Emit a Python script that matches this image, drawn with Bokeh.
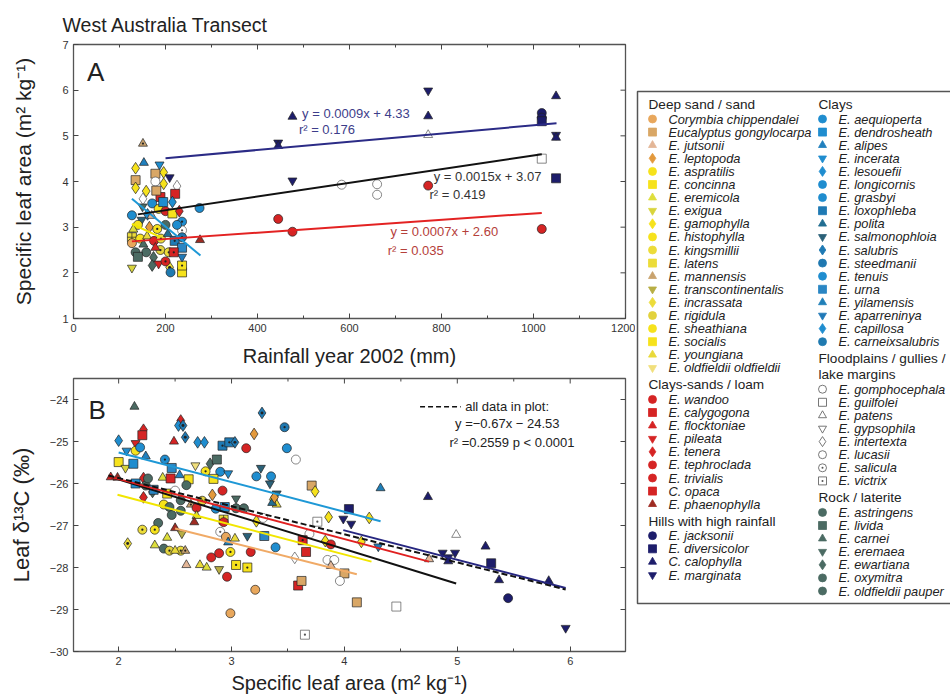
import math
from bokeh.plotting import figure
from bokeh.layouts import row, column
from bokeh.models import Range1d, SingleIntervalTicker, ColumnDataSource
from bokeh.embed import file_html
from bokeh.resources import INLINE
from bokeh.core.properties import value

FONT = "Liberation Sans"

# ---------------- species / groups (legend) ----------------
group_titles = ["Deep sand / sand", "Clays-sands / loam", "Hills with high rainfall",
                "Clays", "Floodplains / gullies /|lake margins", "Rock / laterite"]
sand_species = ["Corymbia chippendalei", "Eucalyptus gongylocarpa", "E. jutsonii", "E. leptopoda",
                "E. aspratilis", "E. concinna", "E. eremicola", "E. exigua", "E. gamophylla",
                "E. histophylla", "E. kingsmillii", "E. latens", "E. mannensis",
                "E. transcontinentalis", "E. incrassata", "E. rigidula", "E. sheathiana",
                "E. socialis", "E. youngiana", "E. oldfieldii oldfieldii"]
loam_species = ["E. wandoo", "E. calygogona", "E. flocktoniae", "E. pileata", "E. tenera",
                "E. tephroclada", "E. trivialis", "C. opaca", "E. phaenophylla"]
hills_species = ["E. jacksonii", "E. diversicolor", "C. calophylla", "E. marginata"]
clay_species = ["E. aequioperta", "E. dendrosheath", "E. alipes", "E. incerata", "E. lesouefii",
                "E. longicornis", "E. grasbyi", "E. loxophleba", "E. polita", "E. salmonophloia",
                "E. salubris", "E. steedmanii", "E. tenuis", "E. urna", "E. yilamensis",
                "E. aparreninya", "E. capillosa", "E. carneixsalubris"]
flood_species = ["E. gomphocephala", "E. guilfolei", "E. patens", "E. gypsophila",
                 "E. intertexta", "E. lucasii", "E. salicula", "E. victrix"]
rock_species = ["E. astringens", "E. livida", "E. carnei", "E. eremaea", "E. ewartiana",
                "E. oxymitra", "E. oldfieldii pauper"]

# ---------------- styles ----------------
YEL = "#f6e21c"
sand_markers = ["circle", "square", "triangle", "diamond", "circle", "square", "triangle",
                "inverted_triangle", "diamond", "circle", "circle_dot", "square_cross",
                "triangle_dot", "inverted_triangle", "diamond_dot", "circle_dot", "circle_dot",
                "square_dot", "triangle", "inverted_triangle"]
sand_colors = ["#e8a75c", "#d9a766", "#e3b697", "#e3993c", YEL, YEL, "#dede3c", "#d8d43c", YEL,
               YEL, "#ecdc3a", "#ecdc3a", "#c9a36e", "#b8ae44", "#ecdc3a", "#e2d23e", YEL, YEL,
               "#e9d93a", "#f1df7c"]
loam_markers = ["circle", "square", "triangle", "inverted_triangle", "diamond", "circle",
                "circle_dot", "square_dot", "triangle"]
loam_colors = ["#d52424"] * 8 + ["#9e2b22"]
hills_markers = ["circle", "square", "triangle", "inverted_triangle"]
hills_colors = ["#1d1d6b"] * 4
BLU = "#1f8dcf"
clay_markers = ["circle", "square", "triangle", "inverted_triangle", "diamond", "circle",
                "circle_dot", "square_dot", "triangle", "inverted_triangle", "diamond_dot",
                "circle_dot", "circle", "square", "triangle", "inverted_triangle", "diamond",
                "circle"]
clay_colors = [BLU, BLU, "#2180be", BLU, BLU, BLU, BLU, "#1f7ab4", "#226e92", "#2b6178",
               "#1f7ab4", "#1f78b0", BLU, "#2a86c4", "#1f7fb8", "#2079b7", BLU, "#1f7ab0"]
flood_markers = ["circle", "square", "triangle", "inverted_triangle", "diamond", "circle",
                 "circle_dot", "square_dot"]
flood_colors = ["#ffffff"] * 8
rock_markers = ["circle", "square", "triangle", "inverted_triangle", "diamond", "circle", "circle"]
rock_colors = ["#4b6b63"] * 7

group_species = [sand_species, loam_species, hills_species, clay_species, flood_species, rock_species]
group_markers = [sand_markers, loam_markers, hills_markers, clay_markers, flood_markers, rock_markers]
group_colors = [sand_colors, loam_colors, hills_colors, clay_colors, flood_colors, rock_colors]
style = {}
for sp, mk, cl in zip(group_species, group_markers, group_colors):
    for s, m, c in zip(sp, mk, cl):
        style[s] = (m, c)

# ---------------- Panel A data: rainfall (mm) vs SLA ----------------
a_species = ["E. mannensis", "E. alipes", "E. incerata", "E. gamophylla", "E. gamophylla",
             "E. marginata", "Eucalyptus gongylocarpa", "Eucalyptus gongylocarpa", "E. gamophylla",
             "E. gamophylla", "E. intertexta", "E. gomphocephala", "E. gamophylla", "E. intertexta",
             "E. calygogona", "E. calygogona", "Eucalyptus gongylocarpa", "E. aequioperta",
             "E. tenuis", "E. aequioperta", "E. salmonophloia", "E. lesouefii", "E. aspratilis",
             "E. wandoo", "E. concinna", "E. tenera", "E. grasbyi", "E. histophylla", "E. leptopoda",
             "E. sheathiana", "E. oxymitra", "E. salicula", "E. latens", "Corymbia chippendalei",
             "E. aspratilis", "E. youngiana", "E. tephroclada", "E. kingsmillii", "E. polita",
             "E. loxophleba", "E. steedmanii", "E. astringens", "E. oldfieldii pauper",
             "E. ewartiana", "E. rigidula", "E. kingsmillii", "E. ewartiana", "E. incrassata",
             "E. carneixsalubris", "E. exigua", "E. concinna", "E. socialis", "E. aparreninya",
             "E. urna", "E. pileata", "E. livida", "E. eremaea", "E. dendrosheath", "E. capillosa",
             "E. jutsonii", "E. eremicola", "E. longicornis", "E. flocktoniae", "E. trivialis",
             "E. carnei", "C. opaca",
             "E. marginata", "C. calophylla", "C. calophylla", "C. calophylla", "E. marginata",
             "C. calophylla", "E. patens", "E. jacksonii", "E. jacksonii", "E. diversicolor",
             "E. marginata", "C. calophylla", "E. marginata", "E. diversicolor", "E. guilfolei",
             "E. gomphocephala", "E. lucasii", "E. gomphocephala", "E. wandoo", "E. wandoo",
             "E. tephroclada", "E. wandoo", "E. phaenophylla"]
a_x = [151, 153, 187, 135, 196, 209, 178, 135, 135, 158, 151, 178, 196, 225, 221, 189, 180, 171,
       127, 274, 148, 161, 185, 200, 215, 230, 236, 140, 165, 182, 200, 236, 127, 127, 145, 160,
       175, 190, 205, 220, 236, 135, 158, 174, 189, 207, 171, 209, 211, 127, 236, 236, 236, 236,
       185, 140, 150, 195, 215, 170, 130, 225, 178, 200, 152, 218,
       771, 1049, 771, 476, 445, 445, 771, 1018, 1018, 1018, 1049, 1049, 476, 1049, 1018,
       583, 660, 660, 771, 445, 476, 1018, 275]
a_y = [4.83, 4.41, 4.37, 4.29, 4.20, 4.09, 4.17, 4.03, 3.86, 3.79, 3.62, 4.00, 3.95, 3.90, 3.73,
       3.66, 3.80, 3.52, 3.26, 3.42, 3.16, 3.28, 3.40, 3.35, 3.30, 3.35, 3.12, 3.05, 3.00, 2.96,
       3.05, 2.93, 2.78, 2.65, 2.75, 2.80, 2.70, 2.75, 2.85, 2.70, 2.78, 2.45, 2.45, 2.34, 2.50,
       2.45, 2.16, 2.12, 2.01, 2.11, 2.01, 2.16, 2.35, 2.55, 2.20, 2.35, 3.45, 3.55, 3.55, 3.25,
       2.95, 3.05, 2.55, 2.25, 2.62, 2.45,
       5.99, 5.87, 5.43, 5.42, 4.85, 4.78, 5.02, 5.50, 5.40, 5.32, 5.02, 4.96, 4.02, 4.07, 4.50,
       3.93, 3.94, 3.71, 3.91, 3.18, 2.90, 2.96, 2.72]

# regression lines in panel A
a_fit_slope = [0.0009, 0.0015, 0.0007]
a_fit_icpt = [4.33, 3.07, 2.60]
a_fit_x0 = [200, 140, 127]
a_fit_x1 = [1050, 1018, 1018]
a_fit_colors = ["#2b2b86", "#111111", "#e32222"]
a_eq_text = ["y = 0.0009x + 4.33", "y = 0.0015x + 3.07", "y = 0.0007x + 2.60"]
a_r2_text = ["r² = 0.176", "r² = 0.419", "r² = 0.035"]
a_eq_x = [497, 783, 689]
a_eq_y = [5.50, 4.11, 2.90]
a_r2_x = [490, 774, 683]
a_r2_y = [5.13, 3.72, 2.50]
a_text_colors = ["#3d3d8a", "#333333", "#b5403a"]
# short group regressions inside the low-rainfall cluster
a_sub_x0 = [127, 127]
a_sub_y0 = [3.62, 3.07]
a_sub_x1 = [276, 189]
a_sub_y1 = [2.38, 2.78]
a_sub_colors = ["#1e98d6", "#f2e600"]

# ---------------- Panel B data: SLA vs leaf d13C ----------------
b_species = ["E. carnei", "E. lesouefii", "E. tenera", "E. calygogona", "E. tenera", "E. lesouefii",
             "E. salubris", "E. flocktoniae", "E. salubris", "E. capillosa", "E. lesouefii",
             "E. loxophleba", "E. loxophleba", "E. salubris", "E. wandoo", "E. leptopoda",
             "E. salubris", "E. steedmanii", "E. tenuis", "E. gomphocephala", "E. pileata",
             "E. aspratilis", "E. aequioperta", "E. incerata", "E. alipes", "E. concinna",
             "E. exigua", "E. dendrosheath", "E. grasbyi", "E. urna", "E. oldfieldii oldfieldii",
             "E. sheathiana", "E. ewartiana", "E. livida", "E. aequioperta", "E. incerata",
             "E. concinna", "E. salmonophloia", "E. longicornis", "E. tenuis", "E. salmonophloia",
             "E. salmonophloia", "E. gamophylla", "E. youngiana", "E. polita", "E. flocktoniae",
             "E. phaenophylla", "E. dendrosheath", "E. tenera", "E. astringens", "E. eremicola",
             "E. calygogona", "E. alipes", "E. concinna", "E. ewartiana", "E. tenera", "E. urna",
             "E. concinna", "E. gomphocephala", "E. oxymitra", "E. rigidula", "E. leptopoda",
             "E. wandoo", "E. aspratilis", "E. astringens", "E. oldfieldii pauper", "E. oxymitra",
             "E. mannensis", "E. wandoo", "E. eremicola", "E. latens", "E. tephroclada",
             "E. aequioperta", "E. dendrosheath", "E. astringens", "E. oldfieldii pauper",
             "E. eremaea", "E. gamophylla", "E. lucasii", "E. leptopoda", "E. astringens",
             "E. kingsmillii", "E. sheathiana", "E. incrassata", "E. phaenophylla",
             "E. phaenophylla", "E. eremicola", "E. eremicola", "E. astringens", "E. rigidula",
             "E. kingsmillii", "E. youngiana", "E. mannensis", "E. transcontinentalis",
             "E. salicula", "Corymbia chippendalei", "E. youngiana", "E. yilamensis",
             "E. sheathiana", "E. socialis", "E. socialis", "E. wandoo", "E. tephroclada",
             "E. wandoo", "E. wandoo", "E. jutsonii", "E. youngiana", "E. eremicola",
             "E. transcontinentalis", "E. salmonophloia", "E. urna", "E. tenuis",
             "Corymbia chippendalei", "Corymbia chippendalei", "E. victrix", "E. victrix",
             "Eucalyptus gongylocarpa", "E. gamophylla", "E. lucasii", "E. intertexta", "C. opaca",
             "E. calygogona", "E. calygogona", "Eucalyptus gongylocarpa", "E. gamophylla",
             "E. diversicolor", "E. marginata", "E. marginata", "E. gamophylla", "E. gamophylla",
             "E. wandoo", "E. gomphocephala", "E. lucasii", "E. jutsonii",
             "Eucalyptus gongylocarpa", "E. gomphocephala", "E. gamophylla",
             "Eucalyptus gongylocarpa", "E. yilamensis", "E. aparreninya", "E. guilfolei",
             "C. calophylla", "E. patens", "E. jutsonii", "E. marginata", "E. marginata",
             "E. marginata", "C. calophylla", "C. calophylla", "E. diversicolor", "C. calophylla",
             "E. jacksonii", "C. calophylla", "E. marginata", "E. oxymitra", "E. astringens"]
b_x = [2.14, 2.00, 2.22, 2.21, 2.55, 2.53, 2.57, 2.49, 2.59, 2.70, 2.76, 2.92, 2.98, 3.03, 3.13,
       3.20, 3.27, 3.47, 3.49, 3.57, 2.15, 2.15, 2.19, 2.07, 2.24, 2.00, 2.06, 2.13, 2.41, 2.47,
       2.68, 2.77, 2.81, 2.87, 2.90, 2.97, 2.84, 3.26, 3.22, 3.35, 3.34, 3.40, 3.37, 3.40, 3.36,
       1.93, 1.99, 2.15, 2.22, 2.24, 2.39, 2.46, 2.54, 2.62, 2.30, 2.22, 2.31, 2.43, 2.50, 2.60,
       2.74, 2.83, 2.92, 2.40, 2.45, 2.55, 2.55, 2.64, 2.69, 2.69, 2.93, 2.93, 2.86, 2.94, 3.04,
       3.11, 3.04, 3.22, 3.28, 3.38, 2.35, 2.21, 2.32, 2.08, 2.50, 2.67, 2.43, 2.32, 2.40, 2.45,
       2.55, 2.50, 2.59, 2.56, 2.90, 2.95, 3.03, 2.97, 2.99, 3.04, 3.14, 3.17, 2.82, 2.89, 2.96,
       2.60, 2.72, 2.78, 2.89, 3.14, 3.29, 3.39, 3.21, 2.99, 3.65, 3.76, 3.71, 3.74, 3.69, 3.56,
       3.63, 3.66, 3.59, 3.62, 3.86, 4.04, 3.99, 4.06, 4.22, 3.83, 3.88, 3.85, 3.91, 3.88, 4.00,
       3.96, 4.15, 4.11, 4.32, 4.30, 4.46, 4.74, 4.99, 4.75, 4.87, 4.98, 4.92, 4.92, 5.25, 5.30,
       5.37, 5.45, 5.81, 5.96, 2.47, 2.26]
b_y = [-24.17, -24.98, -24.72, -24.85, -24.50, -24.62, -24.62, -25.00, -24.90, -25.02, -25.02,
       -25.10, -25.02, -25.02, -25.16, -24.82, -24.32, -24.66, -25.16, -25.43, -25.04, -25.22,
       -25.14, -25.22, -25.35, -25.49, -25.63, -25.53, -25.43, -25.63, -25.57, -25.71, -25.53,
       -25.43, -25.72, -25.76, -25.89, -25.63, -25.83, -25.83, -26.00, -26.24, -26.38, -26.50,
       -26.46, -25.85, -25.86, -26.00, -25.87, -26.05, -25.86, -25.88, -25.80, -25.90, -26.20,
       -26.33, -26.15, -26.24, -26.17, -26.04, -26.41, -26.27, -26.17, -26.50, -26.56, -26.40,
       -26.65, -26.50, -26.58, -26.77, -26.86, -26.92, -26.60, -26.56, -26.59, -26.59, -26.36,
       -26.90, -26.82, -26.33, -26.94, -27.10, -27.10, -27.43, -27.06, -26.92, -27.29, -27.47,
       -27.55, -27.60, -27.60, -27.60, -27.60, -27.19, -27.15, -27.27, -27.31, -27.40, -27.63,
       -27.94, -28.00, -27.63, -27.76, -27.66, -28.22, -27.94, -27.94, -28.00, -28.04, -27.25,
       -27.25, -27.52, -28.53, -29.09, -29.60, -26.91, -26.05, -26.19, -27.20, -27.77, -27.35,
       -27.63, -28.43, -28.32, -26.80, -26.61, -26.84, -26.96, -26.82, -27.37, -27.45, -27.82,
       -27.82, -27.96, -28.14, -28.32, -27.39, -28.83, -26.11, -27.50, -28.93, -26.32, -27.22,
       -27.80, -27.65, -27.65, -27.76, -27.85, -27.50, -27.90, -28.30, -28.73, -28.32, -29.44,
       -26.75, -25.88]

# group regression lines in panel B (end points)
b_line_x0 = [1.91, 1.91, 3.99, 1.99, 2.50, 2.00]
b_line_y0 = [-25.83, -25.83, -27.11, -26.27, -27.07, -25.26]
b_line_x1 = [4.99, 4.75, 5.96, 4.24, 4.11, 4.32]
b_line_y1 = [-28.38, -27.86, -28.49, -27.86, -28.16, -26.90]
b_line_colors = ["#111111", "#e02020", "#262680", "#f2e600", "#f0aa66", "#1e98d6"]
# all-data fit
b_all_slope = -0.67
b_all_icpt = -24.53
b_all_x = [1.91, 5.96]
b_note = ["all data in plot:", "y =−0.67x − 24.53", "r² =0.2559 p < 0.0001"]
b_note_x = [5.07, 4.98, 4.93]
b_note_y = [-24.17, -24.58, -25.02]

DIAMONDS = ("diamond", "diamond_dot")


def point_source(names, xs, ys, base=9):
    mk = [style[n][0] for n in names]
    fc = [style[n][1] for n in names]
    lc = ["#555555" if c == "#ffffff" else "#222222" for c in fc]
    sz = [base * 1.3 if m in DIAMONDS else base for m in mk]
    return ColumnDataSource(dict(x=xs, y=ys, marker=mk, fill=fc, line=lc, size=sz))


def style_axis(ax):
    ax.major_tick_in = 5
    ax.major_tick_out = 0
    ax.minor_tick_in = 3
    ax.minor_tick_out = 0
    ax.axis_line_color = None
    ax.major_tick_line_color = "#444444"
    ax.minor_tick_line_color = "#444444"
    ax.major_label_text_font = FONT
    ax.major_label_text_color = "#333333"
    ax.major_label_text_font_size = "11px"
    ax.major_label_standoff = 5
    ax.axis_label_text_font = FONT
    ax.axis_label_text_font_style = "normal"
    ax.axis_label_text_color = "#222222"


def steps(a, b, d):
    n = int(round((b - a) / d))
    return [a + k * d for k in range(n + 1)]


def make_panel(xr, yr, xint, yint, xfirst, yfirst, h, top, bottom):
    p = figure(width=635, height=h, x_range=Range1d(*xr), y_range=Range1d(*yr),
               output_backend="svg", toolbar_location=None,
               min_border_left=73, min_border_right=10, min_border_top=top,
               min_border_bottom=bottom)
    p.xgrid.visible = False
    p.ygrid.visible = False
    p.outline_line_color = "#555555"
    p.outline_line_width = 1.3
    p.xaxis.ticker = SingleIntervalTicker(interval=xint, num_minor_ticks=2)
    p.yaxis.ticker = SingleIntervalTicker(interval=yint, num_minor_ticks=0)
    style_axis(p.xaxis[0])
    style_axis(p.yaxis[0])
    # inward tick marks on the top and right edges of the box
    xmaj = [v for v in steps(xfirst, xr[1], xint) if v >= xr[0]]
    xmin = [v + xint / 2 for v in xmaj if v + xint / 2 <= xr[1]]
    ymaj = [v for v in steps(yfirst, yr[1], yint) if v >= yr[0]]
    p.ray(x=xmaj, y=[yr[1]] * len(xmaj), length=5, length_units="screen",
          angle=-math.pi / 2, line_color="#444444", line_width=1)
    p.ray(x=xmin, y=[yr[1]] * len(xmin), length=3, length_units="screen",
          angle=-math.pi / 2, line_color="#444444", line_width=1)
    p.ray(x=[xr[1]] * len(ymaj), y=ymaj, length=5, length_units="screen",
          angle=math.pi, line_color="#444444", line_width=1)
    return p


# ---------------- Panel A ----------------
pA = make_panel((0, 1200), (1, 7), 200, 1, 0, 1, 372, 44, 54)
pA.title.text = "West Australia Transect"
pA.title.text_font = FONT
pA.title.text_font_size = "19.5px"
pA.title.text_font_style = "normal"
pA.title.text_color = "#222222"
pA.title.align = "left"
pA.title.offset = -11
pA.title.standoff = 17
xa, ya = pA.xaxis[0], pA.yaxis[0]
xa.axis_label = "Rainfall year 2002 (mm)"
xa.axis_label_text_font_size = "20px"
xa.axis_label_standoff = 10
ya.axis_label = "Specific leaf area (m² kg⁻¹)"
ya.axis_label_text_font_size = "21px"
ya.axis_label_standoff = 24

pA.scatter(x="x", y="y", marker="marker", fill_color="fill", line_color="line",
           line_width=0.7, size="size", source=point_source(a_species, a_x, a_y))
for x0, y0, x1, y1, c in zip(a_sub_x0, a_sub_y0, a_sub_x1, a_sub_y1, a_sub_colors):
    pA.line([x0, x1], [y0, y1], line_color=c, line_width=2)
for s, b, x0, x1, c in zip(a_fit_slope, a_fit_icpt, a_fit_x0, a_fit_x1, a_fit_colors):
    pA.line([x0, x1], [s * x0 + b, s * x1 + b], line_color=c, line_width=2)
pA.text(x=a_eq_x + a_r2_x, y=a_eq_y + a_r2_y, text=a_eq_text + a_r2_text,
        text_color=a_text_colors + a_text_colors, text_font=value(FONT),
        text_font_size="13px", text_baseline="middle", text_align="left")
pA.text(x=[48], y=[6.39], text=["A"], text_font=value(FONT), text_font_size="26px",
        text_color="#222222", text_baseline="middle", text_align="center")

# ---------------- Panel B ----------------
pB = make_panel((1.6, 6.49), (-30.0, -23.5), 1, 1, 1, -30, 327, 6, 48)
xb, yb = pB.xaxis[0], pB.yaxis[0]
yb.major_label_overrides = {v: "−%d" % (-v) for v in range(-30, -23)}
xb.axis_label = "Specific leaf area (m² kg⁻¹)"
xb.axis_label_text_font_size = "20px"
xb.axis_label_standoff = 4
yb.axis_label = "Leaf δ¹³C (‰)"
yb.axis_label_text_font_size = "22px"
yb.axis_label_standoff = 13

pB.scatter(x="x", y="y", marker="marker", fill_color="fill", line_color="line",
           line_width=0.7, size="size", source=point_source(b_species, b_x, b_y))
for x0, y0, x1, y1, c in zip(b_line_x0, b_line_y0, b_line_x1, b_line_y1, b_line_colors):
    pB.line([x0, x1], [y0, y1], line_color=c, line_width=2)
pB.line(b_all_x, [b_all_slope * v + b_all_icpt for v in b_all_x], line_color="#111111",
        line_width=2, line_dash="6 3")
pB.line([b_note_x[0] - 0.40, b_note_x[0] - 0.04], [b_note_y[0], b_note_y[0]],
        line_color="#111111", line_width=1.5, line_dash="5 3")
pB.text(x=b_note_x, y=b_note_y, text=b_note, text_font=value(FONT), text_font_size="13px",
        text_color="#222222", text_baseline="middle", text_align="left")
pB.text(x=[1.81], y=[-24.26], text=["B"], text_font=value(FONT), text_font_size="26px",
        text_color="#222222", text_baseline="middle", text_align="center")

# ---------------- Legend panel ----------------
pL = figure(width=315, height=699, x_range=Range1d(0, 315), y_range=Range1d(699, 0),
            output_backend="svg", toolbar_location=None, min_border=0)
pL.axis.visible = False
pL.grid.visible = False
pL.outline_line_color = None
pL.quad(left=[2], right=[330], top=[91], bottom=[603], fill_color="#ffffff",
        line_color="#555555", line_width=1.5)

col_groups = [[0, 1, 2], [3, 4, 5]]
col_x = [13, 183]
STEP, HEAD_GAP, GROUP_GAP, LINE_GAP = 13.1, 14.5, 17, 16
hx, hy, ht = [], [], []
ix, iy, it, mk, fc, lc, sz = [], [], [], [], [], [], []
for ci, groups in enumerate(col_groups):
    y = 104
    for gi in groups:
        lines = group_titles[gi].split("|")
        for k, ln in enumerate(lines):
            if k:
                y += LINE_GAP
            hx.append(col_x[ci]); hy.append(y); ht.append(ln)
        y += HEAD_GAP
        for s in group_species[gi]:
            m, c = style[s]
            ix.append(col_x[ci]); iy.append(y); it.append(s)
            mk.append(m); fc.append(c)
            lc.append("#555555" if c == "#ffffff" else c)
            sz.append(10 if m in DIAMONDS else 8)
            y += STEP
        y += GROUP_GAP - STEP
pL.text(x=hx, y=hy, text=ht, text_font=value(FONT), text_font_size="13.6px",
        text_color="#222222", text_baseline="middle", text_align="left")
pL.scatter(x=[v + 4 for v in ix], y=iy, marker=mk, fill_color=fc, line_color=lc,
           line_width=0.8, size=sz)
pL.text(x=[v + 20 for v in ix], y=iy, text=it, text_font=value(FONT), text_font_size="12.8px",
        text_font_style="italic", text_color="#222222", text_baseline="middle",
        text_align="left")

layout = row(column(pA, pB), pL)
open("out.html", "w").write(file_html(layout, INLINE))
